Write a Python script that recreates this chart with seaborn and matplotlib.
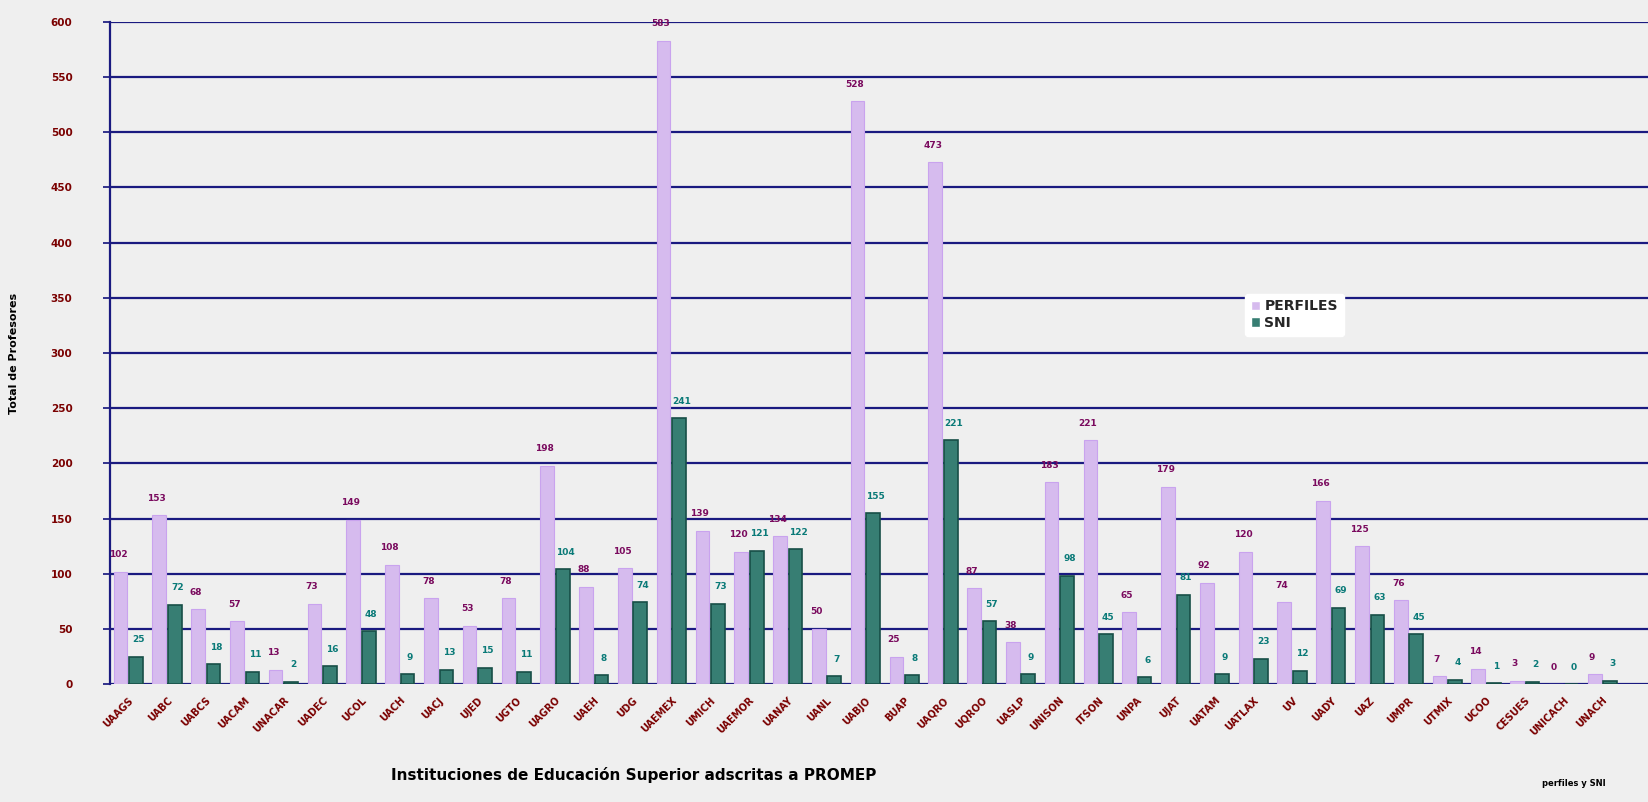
import matplotlib
matplotlib.use("Agg")
import matplotlib.pyplot as plt
import seaborn as sns
import pandas as pd

categories = ["UAAGS", "UABC", "UABCS", "UACAM", "UNACAR", "UADEC", "UCOL", "UACH",
              "UACJ", "UJED", "UGTO", "UAGRO", "UAEH", "UDG", "UAEMEX", "UMICH",
              "UAEMOR", "UANAY", "UANL", "UABJO", "BUAP", "UAQRO", "UQROO", "UASLP",
              "UNISON", "ITSON", "UNPA", "UJAT", "UATAM", "UATLAX", "UV", "UADY",
              "UAZ", "UMPR", "UTMIX", "UCOO", "CESUES", "UNICACH", "UNACH"]
perfiles = [102, 153, 68, 57, 13, 73, 149, 108, 78, 53, 78, 198, 88, 105, 583, 139,
            120, 134, 50, 528, 25, 473, 87, 38, 183, 221, 65, 179, 92, 120, 74, 166,
            125, 76, 7, 14, 3, 0, 9]
sni = [25, 72, 18, 11, 2, 16, 48, 9, 13, 15, 11, 104, 8, 74, 241, 73,
       121, 122, 7, 155, 8, 221, 57, 9, 98, 45, 6, 81, 9, 23, 12, 69,
       63, 45, 4, 1, 2, 0, 3]
series = ["PERFILES", "SNI"]
yticks = list(range(0, 601, 50))

df = pd.DataFrame({
    "inst": categories * 2,
    "valor": perfiles + sni,
    "serie": [series[0]] * len(categories) + [series[1]] * len(categories),
})

sns.set_theme(style="white")
plt.rcParams["font.family"] = ["DejaVu Sans"]

fig = plt.figure(figsize=(16.49, 8.02), dpi=100)
fig.patch.set_facecolor("#efefef")
ax = fig.add_axes([0.0667, 0.147, 0.9333, 0.8257])
ax.set_facecolor("#efefef")

sns.barplot(data=df, x="inst", y="valor", hue="serie", order=categories,
            hue_order=series, palette={"PERFILES": "#d6b3f6", "SNI": "#2b8a7b"},
            width=0.8, gap=0.12, ax=ax, zorder=3)

for bar in ax.containers[0]:
    bar.set_edgecolor("#c9a3ee")
    bar.set_linewidth(0.8)
for bar in ax.containers[1]:
    bar.set_edgecolor("#174f47")
    bar.set_linewidth(1.2)

lab_p = ax.bar_label(ax.containers[0], fmt="%d", padding=9, color="#7a0a5e",
                     fontsize=6.5, fontweight="bold")
lab_s = ax.bar_label(ax.containers[1], fmt="%d", padding=9, color="#0a7a78",
                     fontsize=6.5, fontweight="bold")
for t in lab_p:
    t.xyann = (-1.8, 9)
for t in lab_s:
    t.xyann = (1.8, 9)

ax.set_ylim(0, 600)
ax.set_xlim(-0.47, 39.2)
ax.set_yticks(yticks)
ax.set_yticklabels([str(v) for v in yticks], color="#7a0000",
                   fontsize=7.5, fontweight="bold")
ax.yaxis.grid(True, color="#1a1a80", linewidth=1.6, zorder=1)
ax.xaxis.grid(False)
ax.set_axisbelow(True)
ax.tick_params(axis="y", left=True, length=5, color="#1a1a80", pad=22)
ax.tick_params(axis="x", bottom=False, pad=2)
plt.setp(ax.get_xticklabels(), rotation=45, ha="right", rotation_mode="anchor",
         color="#7a0000", fontsize=7, fontweight="bold")

for s in ["top", "right", "bottom"]:
    ax.spines[s].set_visible(False)
ax.spines["left"].set_color("#1a1a80")
ax.spines["left"].set_linewidth(1.6)

ax.set_xlabel("Instituciones de Educación Superior adscritas a PROMEP",
              fontsize=11, fontweight="bold", color="black", labelpad=28)
ax.xaxis.set_label_coords(0.34, -0.125)
ax.set_ylabel("Total de Profesores", fontsize=8, fontweight="bold", color="black")
ax.yaxis.set_label_coords(-0.059, 0.5)

leg = ax.legend(loc="upper left", bbox_to_anchor=(0.733, 0.6), frameon=True,
                fontsize=10, handlelength=0.7, handleheight=0.7,
                handletextpad=0.3, borderpad=0.4, labelspacing=0.2)
leg.get_frame().set_facecolor("white")
leg.get_frame().set_edgecolor("white")
leg.get_frame().set_alpha(1)
for t in leg.get_texts():
    t.set_fontweight("bold")

fig.text(0.935, 0.02, "perfiles y SNI", fontsize=6, fontweight="bold", color="black")

fig.savefig("out.png", dpi=100, facecolor=fig.get_facecolor())
